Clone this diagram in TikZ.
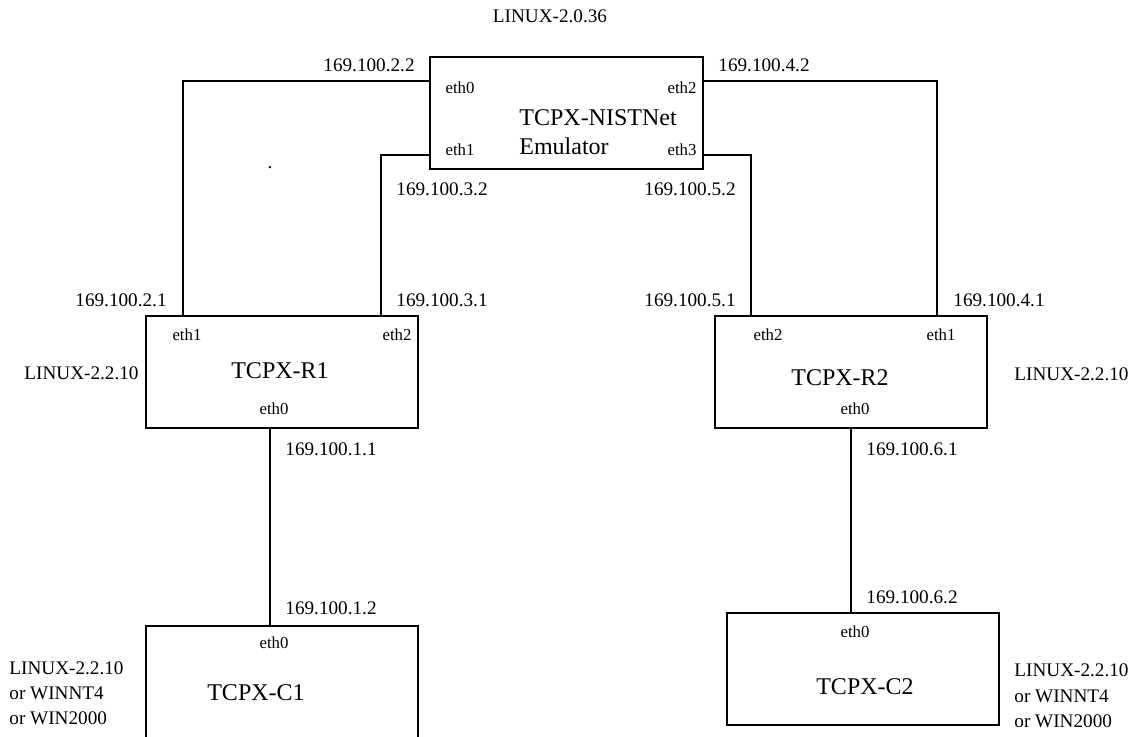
\documentclass[tikz,border=0pt]{standalone}
\usepackage{fontspec}
\setmainfont{Liberation Serif}
\begin{document}
\begin{tikzpicture}[x=0.5pt,y=-0.5pt,
  box/.style={draw, line width=0.7pt, inner sep=0, minimum width=136pt, minimum height=56pt},
  wire/.style={line width=0.6pt},
  lbl/.style={font=\fontsize{9.6}{12}\selectfont, inner sep=0, anchor=west},
  port/.style={font=\fontsize{8.4}{10}\selectfont, inner sep=0},
  title/.style={font=\fontsize{12}{14.5}\selectfont, inner sep=0}]
\useasboundingbox (0,0) rectangle (1135,736);
% boxes
\node[box, minimum width=136.5pt] (emu) at (566.5,113) {};
\node[box] (r1) at (282,372) {};
\node[box] (r2) at (851,372) {};
\node[box, minimum height=59.5pt] (c1) at (282,685.5) {};
\node[box] (c2) at (863,669) {};
% titles
\node[title, align=left, anchor=west] (emut) at (519,132.5) {TCPX-NISTNet\\Emulator};
\node[title] (r1t) at (280,371) {TCPX-R1};
\node[title] (r2t) at (840,378) {TCPX-R2};
\node[title] (c1t) at (256,693) {TCPX-C1};
\node[title] (c2t) at (865,687) {TCPX-C2};
% ports
\node[port] (emu0) at (460,88) {eth0};
\node[port] (emu1) at (460,150) {eth1};
\node[port] (emu2) at (682,88) {eth2};
\node[port] (emu3) at (682,150) {eth3};
\node[port] (r1e1) at (187,335) {eth1};
\node[port] (r1e2) at (397,335) {eth2};
\node[port] (r1e0) at (274,409) {eth0};
\node[port] (r2e2) at (768,335) {eth2};
\node[port] (r2e1) at (941,335) {eth1};
\node[port] (r2e0) at (855,409) {eth0};
\node[port] (c1e0) at (274,643) {eth0};
\node[port] (c2e0) at (855,632) {eth0};
% connectors
\draw[wire] (emu.west |- 0,81) -| (r1.north -| 183,0);
\draw[wire] (emu.west |- 0,155) -| (r1.north -| 381,0);
\draw[wire] (emu.east |- 0,81) -| (r2.north -| 937,0);
\draw[wire] (emu.east |- 0,155) -| (r2.north -| 751,0);
\draw[wire] (r1.south -| 270,0) -- (c1.north -| 270,0);
\draw[wire] (r2.south -| 851,0) -- (c2.north -| 851,0);
% labels
\node[lbl, anchor=center] (os0) at (550,16) {LINUX-2.0.36};
\node[lbl] (a22) at (323,65) {169.100.2.2};
\node[lbl] (a42) at (718,65) {169.100.4.2};
\node[lbl] (a32) at (396,189) {169.100.3.2};
\node[lbl] (a52) at (644,189) {169.100.5.2};
\node[lbl] (a21) at (75,300) {169.100.2.1};
\node[lbl] (a31) at (396,300) {169.100.3.1};
\node[lbl] (a51) at (644,300) {169.100.5.1};
\node[lbl] (a41) at (953,300) {169.100.4.1};
\node[lbl] (osr1) at (24,373) {LINUX-2.2.10};
\node[lbl] (osr2) at (1014,374) {LINUX-2.2.10};
\node[lbl] (a11) at (285,449) {169.100.1.1};
\node[lbl] (a12) at (285,608) {169.100.1.2};
\node[lbl] (a61) at (866,449) {169.100.6.1};
\node[lbl] (a62) at (866,597) {169.100.6.2};
\node[lbl, align=left, font=\fontsize{9.6}{12.5}\selectfont] (osc1) at (9,693) {LINUX-2.2.10\\or WINNT4\\or WIN2000};
\node[lbl, align=left, font=\fontsize{9.6}{12.75}\selectfont] (osc2) at (1014,696) {LINUX-2.2.10\\or WINNT4\\or WIN2000};
\node[lbl, anchor=center] (dot) at (270,168) {.};
\end{tikzpicture}
\end{document}
